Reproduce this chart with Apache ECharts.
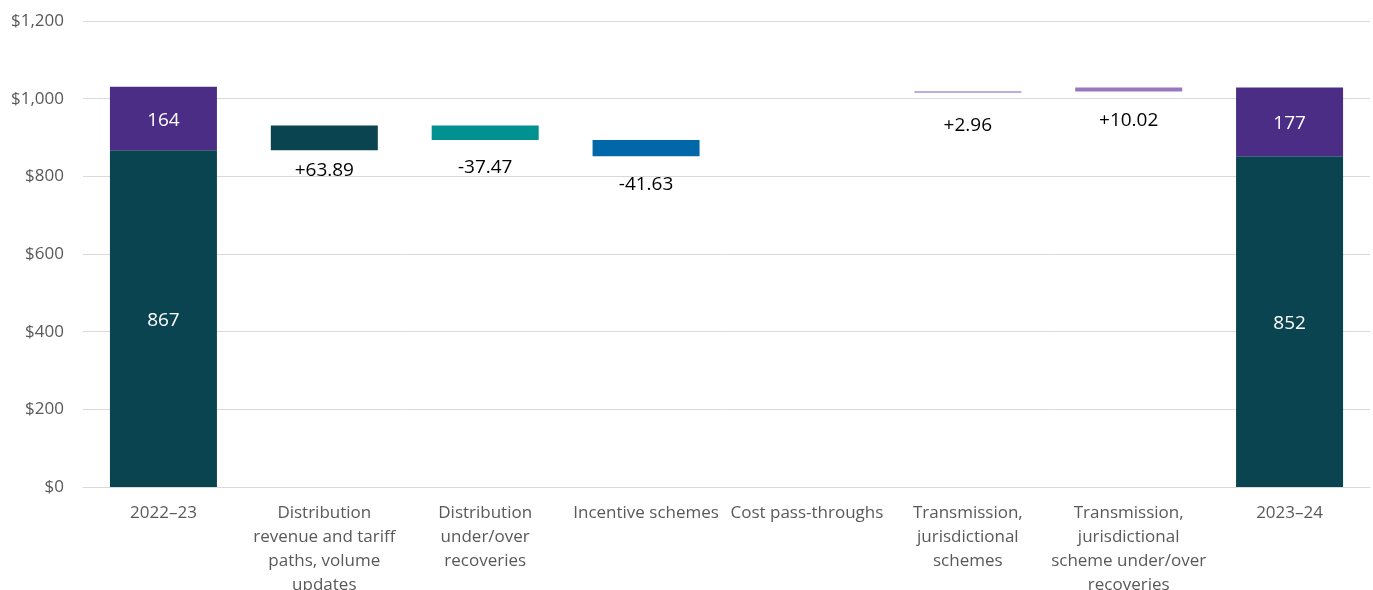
<!DOCTYPE html>
<html>
<head>
<meta charset="utf-8">
<script src="https://cdn.jsdelivr.net/npm/echarts@6/dist/echarts.min.js"></script>
<style>
  html, body { margin: 0; padding: 0; background: #fff; overflow: hidden; }
  #chart { width: 1373px; height: 590px; }
</style>
</head>
<body>
<div id="chart"></div>
<script>
// categories (x axis)
const categories = [
    '2022–23',
    'Distribution\nrevenue and tariff\npaths, volume\nupdates',
    'Distribution\nunder/over\nrecoveries',
    'Incentive schemes',
    'Cost pass-throughs',
    'Transmission,\njurisdictional\nschemes',
    'Transmission,\njurisdictional\nscheme under/over\nrecoveries',
    '2023–24'
];
// opening and closing totals
const startDistribution = 867;
const startTransmission = 164;
const endDistribution = 852;
const endTransmission = 177;
// movements between the two years (categories 1..6)
const distributionChanges = [63.89, -37.47, -41.63, 0];
const transmissionChanges = [2.96, 10.02];
// y axis ticks
const yTicks = [0, 200, 400, 600, 800, 1000, 1200];

// styling (not data)
const changeColors = ['#0a4450', '#009190', '#0068a8', '#0068a8', '#7d5db6', '#9a76c0'];
const labelGaps = [10, 18, 18, 0, 23, 19];

let chart = echarts.init(document.getElementById('chart'));

// build the waterfall: invisible base + visible movement
let base = ['-'], move = ['-'];
let running = startDistribution;
distributionChanges.forEach(v => {
    base.push(v >= 0 ? running : running + v);
    move.push(Math.abs(v));
    running += v;
});
running += startTransmission;
transmissionChanges.forEach(v => {
    base.push(v >= 0 ? running : running + v);
    move.push(Math.abs(v));
    running += v;
});
base.push('-');
move.push('-');
const changes = distributionChanges.concat(transmissionChanges);

let distTotals = [startDistribution, '-', '-', '-', '-', '-', '-', endDistribution];
let transTotals = [startTransmission, '-', '-', '-', '-', '-', '-', endTransmission];

let moveData = move.map((v, i) => {
    if (v === '-') return v;
    let c = changes[i - 1];
    return {
        value: v,
        itemStyle: { color: changeColors[i - 1] },
        label: {
            show: c !== 0,
            position: 'bottom',
            distance: labelGaps[i - 1],
            formatter: (c > 0 ? '+' : '') + c.toFixed(2)
        }
    };
});

const font = '"Open Sans", sans-serif';
const insideLabel = { show: true, position: 'inside', offset: [0, 2], color: '#fff', fontSize: 19, fontFamily: font };

chart.setOption({
    animation: false,
    textStyle: { fontFamily: font },
    grid: { left: 83, right: 3, top: 21, bottom: 103, containLabel: false, outerBoundsMode: 'none' },
    xAxis: {
        type: 'category',
        data: categories,
        axisLine: { lineStyle: { color: '#d9d9d9', width: 1 } },
        axisTick: { show: false },
        axisLabel: {
            interval: 0,
            color: '#595959',
            fontSize: 17,
            lineHeight: 24,
            margin: 14,
            fontFamily: font
        }
    },
    yAxis: {
        type: 'value',
        min: yTicks[0],
        max: yTicks[yTicks.length - 1],
        interval: 200,
        axisLine: { show: false },
        axisTick: { show: false },
        splitLine: { lineStyle: { color: '#d9d9d9', width: 1 } },
        axisLabel: {
            color: '#595959',
            fontSize: 17,
            margin: 19,
            fontFamily: font,
            formatter: v => '$' + v.toLocaleString('en-US')
        }
    },
    series: [
        {
            name: 'Distribution',
            type: 'bar',
            stack: 'w',
            barWidth: 107,
            data: distTotals,
            itemStyle: { color: '#0a4450' },
            label: insideLabel
        },
        {
            name: 'Transmission',
            type: 'bar',
            stack: 'w',
            barWidth: 107,
            data: transTotals,
            itemStyle: { color: '#4b2d86' },
            label: insideLabel
        },
        {
            name: 'base',
            type: 'bar',
            stack: 'w',
            barWidth: 107,
            data: base,
            itemStyle: { color: 'transparent' },
            silent: true
        },
        {
            name: 'change',
            type: 'bar',
            stack: 'w',
            barWidth: 107,
            data: moveData,
            label: { color: '#000', fontSize: 19, lineHeight: 20, fontFamily: font }
        }
    ]
});
</script>
</body>
</html>
